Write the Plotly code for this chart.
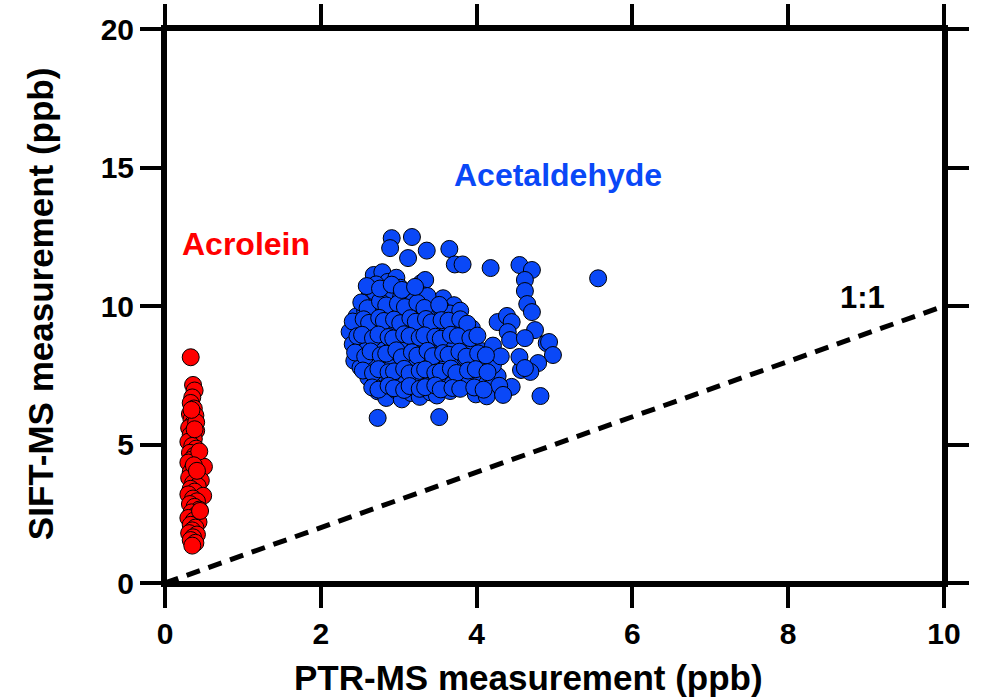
import plotly.graph_objects as go

# ---- Data ----
acet_x = [5.56, 2.91, 3.17, 2.89, 3.36, 3.65, 3.12, 3.72, 3.82, 3.29, 3.34, 4.18, 4.55, 4.71, 4.62, 4.62, 4.65,
          4.71, 4.27, 4.39, 4.45, 4.75, 4.90, 4.93, 4.98, 4.79, 4.57, 4.69, 4.82, 4.45, 4.25, 4.08, 4.27, 3.92,
          2.73, 3.52, 4.40, 4.43, 4.62, 4.55, 4.62,
          2.68, 2.79, 2.86, 2.97, 2.71, 3.02, 2.63,
          2.61, 2.69, 2.82, 2.88, 3.03, 3.11, 3.19, 3.31, 3.46, 3.57, 3.71, 2.54, 3.37,
          2.46, 2.57, 2.64, 2.77, 2.84, 2.96, 3.06, 3.14, 3.27, 3.34, 3.47, 3.54, 3.66, 3.79,
          2.37, 2.49, 2.57, 2.69, 2.76, 2.89, 2.97, 3.09, 3.17, 3.29, 3.36, 3.49, 3.61, 3.71, 3.86, 3.94,
          2.41, 2.51, 2.59, 2.72, 2.79, 2.91, 3.01, 3.08, 3.21, 3.31, 3.39, 3.52, 3.59, 3.71, 3.83, 3.96, 4.07, 4.21,
          2.43, 2.51, 2.63, 2.71, 2.83, 2.91, 3.03, 3.11, 3.23, 3.31, 3.43, 3.51, 3.63, 3.71, 3.86, 3.97, 4.11, 4.21, 4.31,
          2.61, 2.69, 2.81, 2.89, 3.01, 3.09, 3.21, 3.29, 3.41, 3.49, 3.61, 3.69, 3.81, 3.91, 4.06, 4.14, 4.29,
          2.73, 2.84, 2.96, 3.04, 3.16, 3.27, 3.41, 3.49, 3.66, 3.99, 4.13, 4.34,
          2.52, 2.6, 2.76, 2.84, 2.99, 3.08, 3.24, 3.33, 3.52,
          2.41, 2.55, 2.62, 2.75, 2.81, 2.94, 3.02, 3.15, 3.22, 3.35, 3.42, 3.55, 3.64, 3.79, 3.88,
          2.47, 2.53, 2.67, 2.74, 2.87, 2.93, 3.07, 3.14, 3.27, 3.33, 3.47, 3.54, 3.67, 3.76, 3.92, 4.01,
          2.44, 2.57, 2.64, 2.77, 2.84, 2.97, 3.04, 3.17, 3.24, 3.37, 3.44, 3.57, 3.64, 3.78, 3.87, 4.02, 4.12,
          2.54, 2.67, 2.74, 2.87, 2.94, 3.07, 3.14, 3.27, 3.34, 3.47, 3.54, 3.67, 3.74, 3.89, 3.99, 4.14,
          2.66, 2.74, 2.87, 2.94, 3.07, 3.14, 3.27, 3.34, 3.47, 3.54, 3.69, 3.79, 3.97, 4.09,
          2.59, 2.76, 2.91, 3.04, 3.21]
acet_y = [11.0, 12.45, 12.49, 12.09, 12.0, 12.06, 11.73, 11.5, 11.5, 10.83, 10.94, 11.37, 11.48, 11.3, 10.94, 10.54, 10.07,
          9.78, 9.42, 9.64, 9.42, 9.13, 8.66, 8.7, 8.23, 7.94, 7.69, 7.62, 6.75, 7.08, 7.0, 7.33, 7.47, 7.69,
          5.96, 5.99, 9.06, 8.77, 8.84, 8.16, 7.76,
          11.12, 11.22, 10.87, 11.02, 10.78, 10.66, 10.57,
          10.27, 10.52, 10.18, 10.43, 10.31, 10.48, 10.16, 10.39, 10.12, 10.28, 10.03, 9.97, 10.36,
          9.63, 9.82, 9.68, 9.93, 9.57, 9.86, 9.72, 9.91, 9.58, 9.79, 9.67, 9.94, 9.73, 9.83,
          9.07, 9.33, 9.12, 9.31, 9.02, 9.27, 9.14, 9.38, 8.98, 9.22, 9.08, 9.34, 9.11, 9.28, 8.97, 9.19,
          8.62, 8.81, 8.43, 8.68, 8.53, 8.77, 8.38, 8.66, 8.47, 8.83, 8.42, 8.71, 8.54, 8.73, 8.46, 8.63, 8.37, 8.57,
          8.02, 7.78, 8.13, 7.92, 8.08, 7.76, 8.21, 7.97, 8.12, 7.83, 8.17, 7.88, 8.03, 7.81, 8.12, 7.91, 8.07, 7.86, 8.18,
          7.42, 7.18, 7.57, 7.29, 7.52, 7.21, 7.43, 7.27, 7.53, 7.28, 7.56, 7.17, 7.41, 7.26, 7.44, 7.22, 7.12,
          6.92, 6.68, 6.97, 6.63, 6.86, 6.72, 6.88, 6.77, 6.93, 6.81, 6.74, 6.79,
          10.13, 9.92, 10.17, 10.02, 10.08, 9.96, 10.11, 9.93, 10.04,
          9.44, 9.52, 9.39, 9.57, 9.46, 9.51, 9.38, 9.56, 9.43, 9.53, 9.41, 9.49, 9.47, 9.52, 9.36,
          8.91, 8.96, 8.84, 8.97, 8.88, 8.83, 8.98, 8.92, 8.86, 8.94, 8.89, 8.82, 8.96, 8.91, 8.84, 8.93,
          8.32, 8.18, 8.36, 8.22, 8.28, 8.4, 8.15, 8.33, 8.21, 8.38, 8.19, 8.3, 8.24, 8.35, 8.17, 8.29, 8.22,
          7.67, 7.58, 7.72, 7.61, 7.64, 7.73, 7.57, 7.66, 7.71, 7.59, 7.63, 7.74, 7.58, 7.67, 7.72, 7.61,
          7.06, 6.98, 7.12, 7.03, 6.97, 7.11, 7.01, 7.07, 7.13, 6.99, 7.04, 7.01, 7.06, 6.98,
          10.72, 10.63, 10.77, 10.58, 10.69]

acro_x = [0.33, 0.36, 0.38, 0.35, 0.33, 0.37, 0.32, 0.39, 0.34, 0.36, 0.31, 0.40, 0.33, 0.37, 0.30, 0.35, 0.40,
          0.32, 0.38, 0.34, 0.30, 0.42, 0.36, 0.50, 0.33, 0.39, 0.31, 0.46, 0.36, 0.42, 0.33, 0.38, 0.30, 0.49,
          0.36, 0.41, 0.32, 0.38, 0.44, 0.34, 0.40, 0.30, 0.37, 0.43, 0.33, 0.39, 0.35, 0.31, 0.41, 0.36, 0.33,
          0.39, 0.35, 0.44, 0.40, 0.37, 0.45, 0.34, 0.38, 0.41]
acro_y = [8.15, 7.15, 6.95, 6.70, 6.50, 6.30, 6.10, 6.05, 5.90, 5.75, 5.60, 5.50, 5.35, 5.20, 5.10, 4.95, 4.85,
          4.70, 4.60, 4.45, 4.35, 4.30, 4.15, 4.20, 4.00, 3.90, 3.80, 3.70, 3.60, 3.50, 3.40, 3.30, 3.20, 3.15,
          3.05, 2.95, 2.85, 2.75, 2.65, 2.55, 2.45, 2.35, 2.25, 2.20, 2.10, 2.00, 1.90, 1.80, 1.75, 1.65, 1.55,
          1.45, 1.35, 4.75, 5.80, 4.25, 2.60, 6.25, 5.55, 4.05]

one_x = [0, 10]
one_y = [0, 10]

x_ticks = [0, 2, 4, 6, 8, 10]
y_ticks = [0, 5, 10, 15, 20]

FONT = "Liberation Sans, Arial, sans-serif"
BLUE = "#0a48f7"
RED = "#ff0000"

fig = go.Figure()
fig.add_trace(go.Scatter(x=one_x, y=one_y, mode="lines",
                         line=dict(color="black", width=5, dash="14px,9px"), showlegend=False))
fig.add_trace(go.Scatter(x=acet_x, y=acet_y, mode="markers",
                         marker=dict(size=17, color=BLUE, line=dict(color="black", width=1)),
                         showlegend=False))
fig.add_trace(go.Scatter(x=acro_x, y=acro_y, mode="markers",
                         marker=dict(size=17, color=RED, line=dict(color="black", width=1)),
                         showlegend=False))

fig.add_annotation(x=5.04, y=14.73, text="<b>Acetaldehyde</b>", showarrow=False,
                   font=dict(family=FONT, size=32, color=BLUE))
fig.add_annotation(x=1.04, y=12.24, text="<b>Acrolein</b>", showarrow=False,
                   font=dict(family=FONT, size=32, color=RED))
fig.add_annotation(x=8.95, y=10.3, text="<b>1:1</b>", showarrow=False,
                   font=dict(family=FONT, size=31, color="black"))

# axis titles
fig.add_annotation(xref="paper", yref="paper", x=0.466, y=-0.171, xanchor="center", yanchor="middle",
                   text="<b>PTR-MS measurement (ppb)</b>",
                   showarrow=False, font=dict(family=FONT, size=35, color="black"))
fig.add_annotation(xref="paper", yref="paper", x=-0.160, y=0.504, xanchor="center", yanchor="middle",
                   text="<b>SIFT-MS measurement (ppb)</b>",
                   showarrow=False, textangle=-90, font=dict(family=FONT, size=35, color="black"))

ex = 0.027
ey = 0.038
for s in [dict(x0=-ex, x1=1 + ex, y0=0, y1=0), dict(x0=-ex, x1=1 + ex, y0=1, y1=1),
          dict(x0=0, x1=0, y0=-ey, y1=1 + ey), dict(x0=1, x1=1, y0=-ey, y1=1 + ey)]:
    fig.add_shape(type="line", xref="paper", yref="paper", line=dict(color="black", width=4), **s)

axis_common = dict(showgrid=False, zeroline=False, showline=True, linecolor="black", linewidth=4,
                   ticks="outside", ticklen=21, tickwidth=4, tickcolor="black", mirror="ticks",
                   tickfont=dict(family=FONT, size=30, color="black", weight="bold"))

fig.update_xaxes(range=[0, 10], tickvals=x_ticks, ticktext=[str(v) for v in x_ticks], **axis_common)
fig.update_yaxes(range=[0, 20], tickvals=y_ticks, ticktext=[str(v) for v in y_ticks], **axis_common)

fig.update_layout(width=987, height=698, margin=dict(l=165, r=43, t=29, b=115, autoexpand=False),
                  plot_bgcolor="white", paper_bgcolor="white", showlegend=False)

fig.write_html("out.html")
